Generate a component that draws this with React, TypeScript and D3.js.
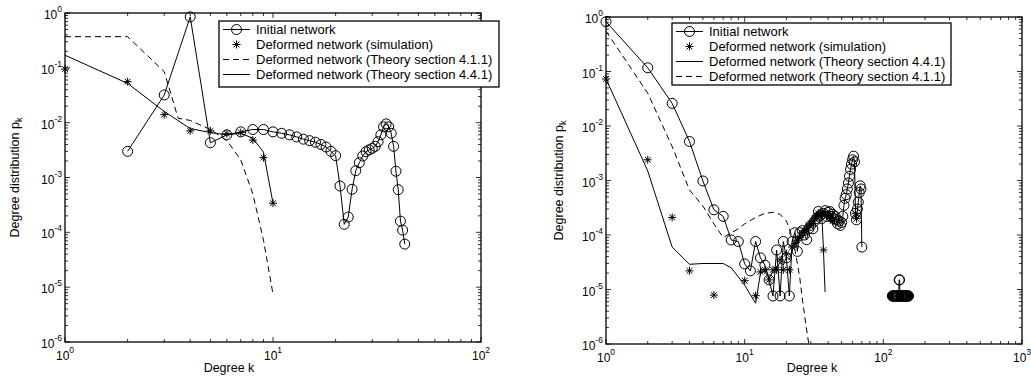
import React from 'react';
import * as d3 from 'd3';

// ---------- Left panel data ----------
const L_INIT_K = [2,3,4,5,6,7,8,9,10,11,12,13,14,15,16,17,18,19,20,21,22,23,24,25,26,27,28,29,30,31,32,33,34,35,36,37,38,39,40,41,42,43];
const L_INIT_P = [3e-3,0.032,0.85,0.0043,0.006,0.0068,0.0075,0.0075,0.0068,0.0064,0.006,0.0055,0.005,0.0047,0.0044,0.004,0.0036,0.003,0.0025,7e-4,1.4e-4,1.9e-4,6.1e-4,1.33e-3,1.86e-3,2.47e-3,2.95e-3,3.2e-3,3.4e-3,3.7e-3,4.5e-3,6e-3,8.4e-3,9.5e-3,8.4e-3,6.4e-3,3.7e-3,1.3e-3,6e-4,1.6e-4,1.1e-4,6.1e-5];
const L_SIM_K = [1,2,3,4,5,6,7,8,9,10];
const L_SIM_P = [0.095,0.056,0.014,0.0071,0.0071,0.0063,0.0066,0.0048,0.0023,3.4e-4];
const L_T441_K = [1,2,3,4,5,6,7,8,9,10];
const L_T441_P = [0.17,0.052,0.016,0.0078,0.0066,0.006,0.0064,0.0052,0.0029,3.4e-4];
const L_T411_K = [1,2,3,3.5,4,5,6,7,8,9,10];
const L_T411_P = [0.37,0.37,0.085,0.012,0.011,0.0075,0.0047,0.0021,5e-4,7.2e-5,7.5e-6];

// ---------- Right panel data ----------
const R_INIT_K = [1,2,3,4,5,6,7,8,9,10,11,12,13,14,15,16,17,18,19,20,21,22,23,24,25,26,27,28,29,30,31,32,33,34,35,36,37,38,39,40,41,42,43,44,45,46,47,48,49,50,51,52,53,54,55,56,57,58,59,60,61,62,63,64,65,66,67,68,69,70];
const R_INIT_P = [0.82,0.117,0.026,0.0052,9.8e-4,2.9e-4,2.2e-4,8.1e-5,7.6e-5,2.95e-5,2.2e-5,7.6e-5,3.8e-5,2.8e-5,1.5e-5,7.6e-6,5.3e-5,7.6e-6,7.6e-5,3.8e-5,7.6e-6,7.6e-5,1.1e-4,5e-5,1.1e-4,1.2e-4,1e-4,8.2e-5,1.3e-4,1.5e-4,1.3e-4,1.8e-4,2e-4,2.7e-4,2.3e-4,2e-4,2.5e-4,2.8e-4,2.2e-4,2.6e-4,2.7e-4,2.2e-4,2.4e-4,2e-4,2.2e-4,1.9e-4,1.6e-4,1.8e-4,1.5e-4,1.7e-4,2.2e-4,3.5e-4,4.7e-4,5.5e-4,7e-4,9e-4,1.2e-3,1.6e-3,2e-3,2.4e-3,2.8e-3,2.2e-3,2.5e-4,1.9e-4,3e-4,4e-4,6e-4,8e-4,7e-4,6e-5];
const R_TAIL_K = [116,117,118,119,120,121,122,123,124,125,126,127,128,129,130,131,132,133,134,135,136,137,138,139,140,141,142,143,144,145,146,147,148,149,150,151,152];
const R_TAIL_P = [7.6e-6,7.6e-6,7.6e-6,7.6e-6,7.6e-6,7.6e-6,7.6e-6,7.6e-6,7.6e-6,7.6e-6,7.6e-6,7.6e-6,7.6e-6,7.6e-6,1.5e-5,1.5e-5,7.6e-6,7.6e-6,7.6e-6,7.6e-6,7.6e-6,7.6e-6,7.6e-6,7.6e-6,7.6e-6,7.6e-6,7.6e-6,7.6e-6,7.6e-6,7.6e-6,7.6e-6,7.6e-6,7.6e-6,7.6e-6,7.6e-6,7.6e-6,7.6e-6];
const R_SIM_K = [1,2,3,4,6,10,12,13,14,15,16,17,18,19,20,21,22,23,24,25,26,27,28,29,30,31,32,33,34,35,36,37,38,39,40,41,42,43,63,64];
const R_SIM_P = [0.073,2.4e-3,2.1e-4,2.2e-5,7.9e-6,1.45e-5,7.7e-6,2.1e-5,2.3e-5,1.5e-5,2.3e-5,2.3e-5,3.5e-5,2.3e-5,4.5e-5,2.3e-5,6e-5,7e-5,8e-5,9e-5,1.1e-4,1.2e-4,1.3e-4,1.5e-4,1.6e-4,1.8e-4,2e-4,2.3e-4,2.5e-4,2.2e-4,2.6e-4,5.3e-5,2.5e-4,2.3e-4,2.4e-4,2.2e-4,2e-4,1.8e-4,2.5e-4,2e-4];
const R_T441_K = [1,2,3,4,5,6,7,8,9,10,11,12,13,14,15,16,17,18,19,20,21,22,23,24,25,26,27,28,29,30,31,32,33,34,35,36,37,38];
const R_T441_P = [0.073,1.5e-3,6e-5,2.9e-5,3e-5,3e-5,3e-5,2.5e-5,1.7e-5,1.2e-5,8e-6,5.6e-6,2e-5,2.2e-5,1.6e-5,2.2e-5,2.4e-5,3.2e-5,2.8e-5,4e-5,3.5e-5,5.5e-5,7e-5,8e-5,9e-5,1.1e-4,1.2e-4,1.3e-4,1.5e-4,1.6e-4,1.8e-4,2e-4,2.3e-4,2.5e-4,2.3e-4,2.4e-4,5.3e-5,9e-6];
const R_T411_K = [1,2,3,4,5,6,7,8,9,10,12,14,16,18,20,21,22,23,24,25,26,27,28,29];
const R_T411_P = [0.55,0.04,4.2e-3,6.7e-4,3.4e-4,1.6e-4,9e-5,1.1e-4,1.3e-4,1.6e-4,2.1e-4,2.5e-4,2.6e-4,2.4e-4,1.8e-4,1.3e-4,9e-5,5.5e-5,3e-5,1.6e-5,7e-6,3.5e-6,1.8e-6,1e-6];

const LEFT_LEGEND = ['Initial network','Deformed network (simulation)','Deformed network (Theory section 4.1.1)','Deformed network (Theory section 4.4.1)'];
const LEFT_LEGEND_STYLE = ['circle','star','dash','solid'];
const RIGHT_LEGEND = ['Initial network','Deformed network (simulation)','Deformed network (Theory section 4.4.1)','Deformed network (Theory section 4.1.1)'];
const RIGHT_LEGEND_STYLE = ['circle','star','solid','dash'];

const FONT = '"Liberation Sans", Arial, Helvetica, sans-serif';

const zip = (k: number[], p: number[]) => k.map((kk, i) => [kk, p[i]] as [number, number]);

function starPath(cx: number, cy: number, s = 4) {
  const d = s * 0.72;
  return `M${cx - s},${cy}L${cx + s},${cy}M${cx},${cy - s}L${cx},${cy + s}M${cx - d},${cy - d}L${cx + d},${cy + d}M${cx - d},${cy + d}L${cx + d},${cy - d}`;
}

type Series = { pts: [number, number][]; line?: 'solid' | 'dash'; marker?: 'circle' | 'star' };

function Panel(props: {
  id: string; x0: number; x1: number; y0: number; y1: number; xMax: number;
  series: Series[]; legend: string[]; legendStyle: string[];
  lg: { x: number; y: number; w: number; h: number };
  yLabelX: number; xLabelX: number;
}) {
  const { id, x0, x1, y0, y1, xMax, series, legend, legendStyle, lg, yLabelX, xLabelX } = props;
  const x = d3.scaleLog().domain([1, xMax]).range([x0, x1]);
  const y = d3.scaleLog().domain([1e-6, 1]).range([y1, y0]);
  const line = d3.line<[number, number]>().defined(d => d[1] > 0).x(d => x(d[0])).y(d => y(d[1]));

  const xDec = Math.round(Math.log10(xMax));
  const xTicks: { v: number; major: boolean }[] = [];
  for (let e = 0; e < xDec; e++) for (let m = 1; m <= 9; m++) xTicks.push({ v: m * 10 ** e, major: m === 1 });
  xTicks.push({ v: xMax, major: true });
  const yTicks: { v: number; major: boolean }[] = [];
  for (let e = -6; e < 0; e++) for (let m = 1; m <= 9; m++) yTicks.push({ v: m * 10 ** e, major: m === 1 });
  yTicks.push({ v: 1, major: true });
  const xMajor = d3.range(0, xDec + 1);
  const yMajor = d3.range(-6, 1);

  const rowY = (i: number) => lg.y + 8.5 + i * 15;
  const sx0 = lg.x + 4, sx1 = lg.x + 31, sxc = (sx0 + sx1) / 2;

  return (
    <g>
      <defs>
        <clipPath id={id}><rect x={x0} y={y0} width={x1 - x0} height={y1 - y0} /></clipPath>
      </defs>
      <rect x={x0} y={y0} width={x1 - x0} height={y1 - y0} fill="#fff" />
      {xTicks.map((t, i) => {
        const px = x(t.v), L = t.major ? 5 : 3;
        return (
          <g key={'xt' + i} stroke="#000" strokeWidth={0.8}>
            <line x1={px} x2={px} y1={y1} y2={y1 - L} />
            <line x1={px} x2={px} y1={y0} y2={y0 + L} />
          </g>
        );
      })}
      {yTicks.map((t, i) => {
        const py = y(t.v), L = t.major ? 5 : 3;
        return (
          <g key={'yt' + i} stroke="#000" strokeWidth={0.8}>
            <line x1={x0} x2={x0 + L} y1={py} y2={py} />
            <line x1={x1} x2={x1 - L} y1={py} y2={py} />
          </g>
        );
      })}
      <g clipPath={`url(#${id})`} fill="none" stroke="#000" strokeWidth={1}>
        {series.filter(s => s.line).map((s, i) => (
          <path key={'l' + i} d={line(s.pts) || ''} strokeDasharray={s.line === 'dash' ? '6,4' : undefined} />
        ))}
      </g>
      <g fill="none" stroke="#000" strokeWidth={1}>
        {series.filter(s => s.marker).map((s, i) =>
          s.pts.filter(d => d[1] > 0).map((d, j) =>
            s.marker === 'circle'
              ? <circle key={`m${i}_${j}`} cx={x(d[0])} cy={y(d[1])} r={5} />
              : <path key={`m${i}_${j}`} d={starPath(x(d[0]), y(d[1]))} />
          )
        )}
      </g>
      <rect x={x0} y={y0} width={x1 - x0} height={y1 - y0} fill="none" stroke="#000" strokeWidth={1.3} />
      <g fontFamily={FONT} fill="#000">
        {xMajor.map(e => (
          <text key={'xl' + e} x={x(10 ** e)} y={y1 + 18} fontSize={12} textAnchor="middle">
            10<tspan dy={-7} fontSize={8.5}>{e}</tspan>
          </text>
        ))}
        {yMajor.map(e => (
          <text key={'yl' + e} x={x0 - 3} y={y(10 ** e) + 6} fontSize={12} textAnchor="end">
            10<tspan dy={-7} fontSize={8.5}>{e}</tspan>
          </text>
        ))}
        <text x={xLabelX} y={372} fontSize={12.5} textAnchor="middle">Degree k</text>
        <text transform={`translate(${yLabelX},${(y0 + y1) / 2}) rotate(-90)`} fontSize={12.5} textAnchor="middle">
          Degree distribution p<tspan dy={3} fontSize={9}>k</tspan>
        </text>
      </g>
      <g>
        <rect x={lg.x} y={lg.y} width={lg.w} height={lg.h} fill="#fff" stroke="#000" strokeWidth={1.3} />
        {legend.map((t, i) => {
          const st = legendStyle[i];
          const yy = rowY(i);
          return (
            <g key={'lg' + i}>
              {(st === 'circle' || st === 'solid') && <line x1={sx0} x2={sx1} y1={yy} y2={yy} stroke="#000" strokeWidth={1} />}
              {st === 'dash' && <line x1={sx0} x2={sx1} y1={yy} y2={yy} stroke="#000" strokeWidth={1} strokeDasharray="6,4" />}
              {st === 'circle' && <circle cx={sxc} cy={yy} r={5} fill="none" stroke="#000" strokeWidth={1} />}
              {st === 'star' && <path d={starPath(sxc, yy)} stroke="#000" strokeWidth={1} fill="none" />}
              <text x={lg.x + 37} y={yy + 4.5} fontFamily={FONT} fontSize={13} fill="#000">{t}</text>
            </g>
          );
        })}
      </g>
    </g>
  );
}

export default function App() {
  const leftSeries: Series[] = [
    { pts: zip(L_T411_K, L_T411_P), line: 'dash' },
    { pts: zip(L_T441_K, L_T441_P), line: 'solid' },
    { pts: zip(L_INIT_K, L_INIT_P), line: 'solid', marker: 'circle' },
    { pts: zip(L_SIM_K, L_SIM_P), marker: 'star' },
  ];
  const rightSeries: Series[] = [
    { pts: zip(R_T411_K, R_T411_P), line: 'dash' },
    { pts: zip(R_T441_K, R_T441_P), line: 'solid' },
    { pts: zip(R_INIT_K, R_INIT_P), line: 'solid', marker: 'circle' },
    { pts: zip(R_TAIL_K, R_TAIL_P), line: 'solid', marker: 'circle' },
    { pts: zip(R_SIM_K, R_SIM_P), marker: 'star' },
  ];
  return (
    <svg width={1031} height={379} style={{ position: 'absolute', left: 0, top: 0, background: '#fff' }}>
      <rect x={0} y={0} width={1031} height={379} fill="#fff" />
      <Panel id="clipL" x0={65} x1={481} y0={13} y1={342} xMax={100} series={leftSeries}
        legend={LEFT_LEGEND} legendStyle={LEFT_LEGEND_STYLE}
        lg={{ x: 219, y: 21, w: 280, h: 66 }} yLabelX={19} xLabelX={229} />
      <Panel id="clipR" x0={606} x1={1022} y0={17} y1={344} xMax={1000} series={rightSeries}
        legend={RIGHT_LEGEND} legendStyle={RIGHT_LEGEND_STYLE}
        lg={{ x: 672, y: 23, w: 279, h: 62 }} yLabelX={563} xLabelX={812} />
    </svg>
  );
}
